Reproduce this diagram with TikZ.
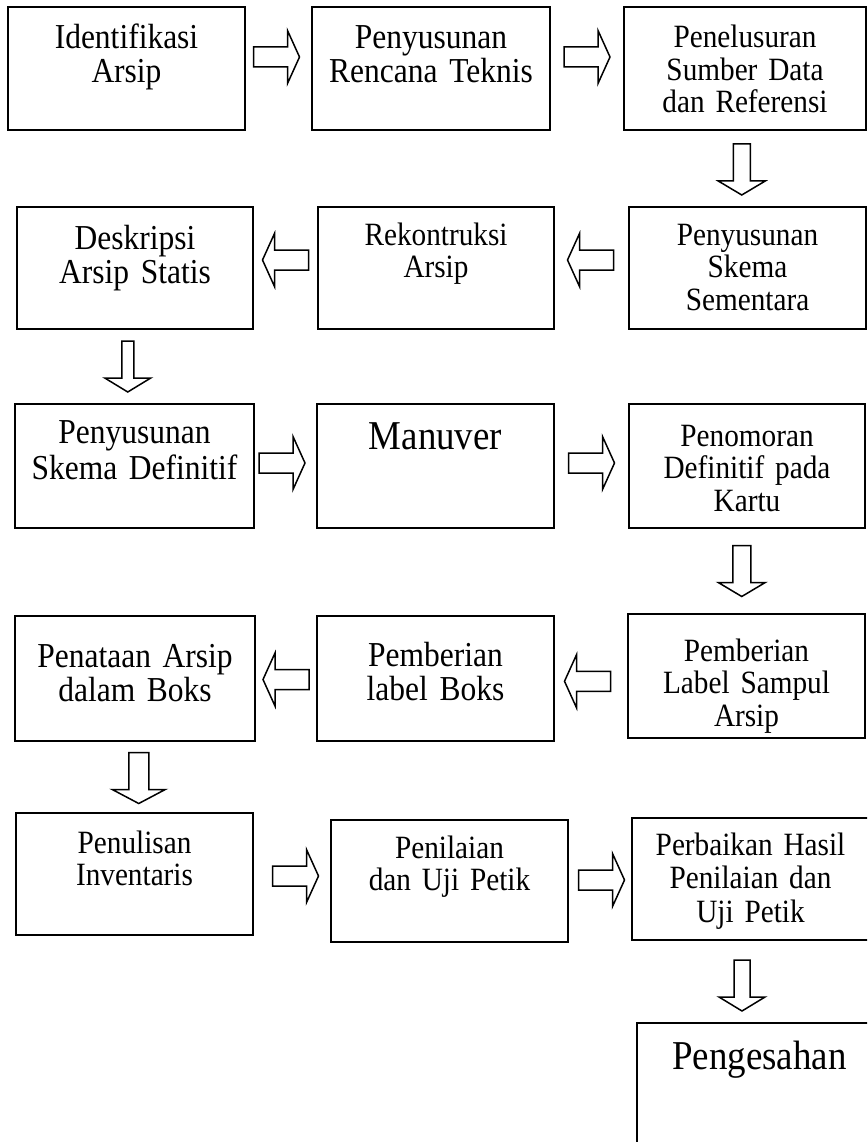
\documentclass[tikz,border=0pt]{standalone}
\usepackage{fontspec}
\setmainfont{Liberation Serif}[FakeStretch=0.9, WordSpace=0.75]
\usetikzlibrary{calc}
\tikzset{
  box/.style={draw, line width=2pt, inner sep=0pt, anchor=north west, align=center},
  txt/.style={font=\fontsize{35}{34}\selectfont},
  stxt/.style={font=\fontsize{32.5}{32.5}\selectfont},
  btxt/.style={font=\fontsize{41}{42}\selectfont},
  blk/.style={draw, line width=1.5pt, fill=white, line join=miter},
  pics/rarr/.style={code={
    \draw[blk] (-23,-10) -- (11,-10) -- (11,-26.5) -- (23,0) -- (11,26.5) -- (11,10) -- (-23,10) -- cycle;
  }},
  pics/darr/.style 2 args={code={
    \draw[blk] (-#1,-25.5) -- (#1,-25.5) -- (#1,11.5) -- (#2,11.5) -- (0,25.5) -- (-#2,11.5) -- (-#1,11.5) -- cycle;
  }}
}

\begin{document}
\begin{tikzpicture}[x=1pt, y=-1pt]
  \useasboundingbox (0,0) rectangle (867,1142);
  \clip (0,0) rectangle (867,1142);

  % row 1
  \node[box, txt, text width=237pt, text height=42pt, text depth=81pt] at (7,6) (ident) {Identifikasi\\Arsip};
  \node[box, txt, text width=238pt, text height=42pt, text depth=81pt] at (311,6) (rencana) {Penyusunan\\Rencana Teknis};
  \node[box, stxt, text width=242pt, text height=41pt, text depth=82pt] at (623,6) (referensi) {Penelusuran\\Sumber Data\\dan Referensi};

  % row 2
  \node[box, txt, text width=236pt, text height=42pt, text depth=80pt] at (16,206) (deskripsi) {Deskripsi\\Arsip Statis};
  \node[box, stxt, text width=236pt, text height=38pt, text depth=84pt] at (317,206) (rekon) {Rekontruksi\\Arsip};
  \node[box, stxt, text width=237pt, text height=38pt, text depth=84pt] at (628,206) (skema_smt) {Penyusunan\\Skema\\Sementara};

  % row 3
  \node[box, txt, text width=239pt, text height=39pt, text depth=85pt] at (14,403) (skema_def) {Penyusunan\\[2pt]Skema Definitif};
  \node[box, btxt, text width=237pt, text height=45pt, text depth=79pt] at (316,403) (manuver) {Manuver};
  \node[box, stxt, text width=236pt, text height=42pt, text depth=82pt] at (628,403) (penomoran) {Penomoran\\Definitif pada\\Kartu};

  % row 4
  \node[box, txt, text width=240pt, text height=51pt, text depth=74pt] at (14,615) (penataan) {Penataan Arsip\\dalam Boks};
  \node[box, txt, text width=237pt, text height=50pt, text depth=75pt] at (316,615) (label_boks) {Pemberian\\label Boks};
  \node[box, stxt, text width=237pt, text height=47pt, text depth=77pt] at (627,613) (label_sampul) {Pemberian\\Label Sampul\\Arsip};

  % row 5
  \node[box, stxt, text width=237pt, text height=40pt, text depth=82pt] at (15,812) (inventaris) {Penulisan\\Inventaris};
  \node[box, stxt, text width=237pt, text height=38pt, text depth=84pt] at (330,819) (penilaian) {Penilaian\\dan Uji Petik};
  \node[box, stxt, text width=237pt, text height=37pt, text depth=85pt] at (631,817) (perbaikan) {Perbaikan Hasil\\[1pt]Penilaian dan\\[1pt]Uji Petik};
  \node[box, btxt, text width=245pt, text height=46pt, text depth=120pt] at (636,1022) (pengesahan) {Pengesahan};

  % block arrows
  \pic at ($(ident.east)!0.5!(rencana.west)+(-2,-11.5)$) {rarr};
  \pic at ($(rencana.east)!0.5!(referensi.west)+(0,-11.5)$) {rarr};
  \pic at ($(referensi.south)!0.5!(skema_smt.north)+(-4.5,1)$) {darr={8.5}{23.5}};
  \pic[rotate=180] at ($(skema_smt.west)!0.5!(rekon.east)+(-1,-8)$) {rarr};
  \pic[rotate=180] at ($(rekon.west)!0.5!(deskripsi.east)+(0,-8)$) {rarr};
  \pic at ($(deskripsi.south)!0.5!(skema_def.north)+(-7,0)$) {darr={6}{23}};
  \pic at ($(skema_def.east)!0.5!(manuver.west)+(-3.5,-3)$) {rarr};
  \pic at ($(manuver.east)!0.5!(penomoran.west)+(0,-3)$) {rarr};
  \pic at ($(penomoran.south)!0.5!(label_sampul.north)+(-5,0)$) {darr={9}{23.5}};
  \pic[rotate=180] at ($(label_sampul.west)!0.5!(label_boks.east)+(-3.5,4)$) {rarr};
  \pic[rotate=180] at ($(label_boks.west)!0.5!(penataan.east)+(0,1)$) {rarr};
  \pic at ($(penataan.south)!0.5!(inventaris.north)+(4,1)$) {darr={10}{26.5}};
  \pic at ($(inventaris.east)!0.5!(penilaian.west)+(3.5,-1.5)$) {rarr};
  \pic at ($(penilaian.east)!0.5!(perbaikan.west)+(1.5,0)$) {rarr};
  \pic at ($(perbaikan.south)!0.5!(pengesahan.north)+(-13,4)$) {darr={8}{23}};
\end{tikzpicture}
\end{document}
